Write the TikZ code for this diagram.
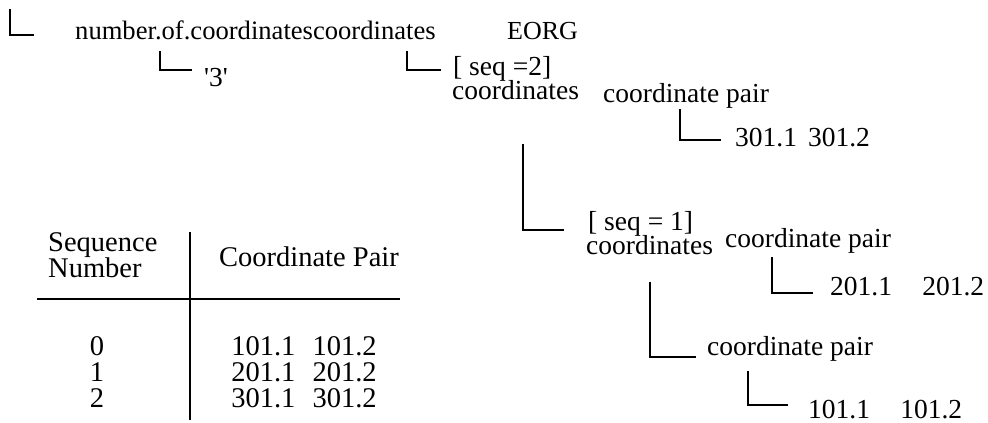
\documentclass[tikz,border=0pt]{standalone}
\usepackage{fontspec}
\setmainfont{Liberation Serif}
\begin{document}
\begin{tikzpicture}[x=1pt,y=-1pt,
  lbl/.style={inner sep=0pt, anchor=mid west, yshift=-7pt, font=\fontsize{27.5}{30}\selectfont},
  cell/.style={inner sep=0pt, anchor=mid, yshift=-7pt, font=\fontsize{28.5}{30}\selectfont},
  brk/.style={line width=2pt, line cap=rect},
  rule/.style={line width=2pt}]
\useasboundingbox (0,0) rectangle (988,423);
% tree labels
\node[lbl, font=\fontsize{26.6}{30}\selectfont] (top)  at (75,30) {number.of.coordinatescoordinates};
\node[lbl, font=\fontsize{26}{30}\selectfont] (eorg) at (507,30)  {EORG};
\node[lbl] (three) at (204,77) {\textquotesingle3\textquotesingle};
\node[lbl] (seq2) at (453,66)  {[ seq =2]};
\node[lbl] (crd2) at (452,90)  {coordinates};
\node[lbl] (cp3)  at (603,93)  {coordinate pair};
\node[lbl] (v3)   at (735,137) {301.1\hspace{0.4em}301.2};
\node[lbl] (seq1) at (588,221) {[ seq = 1]};
\node[lbl] (crd1) at (586,245) {coordinates};
\node[lbl] (cp2)  at (725,238) {coordinate pair};
\node[lbl] (v2)   at (830,286) {201.1\hspace{1.1em}201.2};
\node[lbl] (cp1)  at (707,346) {coordinate pair};
\node[lbl] (v1)   at (808,409) {101.1\hspace{1.1em}101.2};
% bracket starts
\coordinate (s1) at (10,10);
\coordinate (s2) at (160,52);
\coordinate (s3) at (407,52);
\coordinate (s4) at (680,110);
\coordinate (s5) at (523,145);
\coordinate (s6) at (772,258);
\coordinate (s7) at (650,283);
\coordinate (s8) at (748,372);
\draw[brk] (s1) |- ([xshift=-42pt,yshift=2pt]top.mid west);
\draw[brk] (s2) |- ([xshift=-13pt,yshift=14pt]three.mid west);
\draw[brk] (s3) |- ([xshift=-13pt,yshift=3pt]seq2.mid west);
\draw[brk] (s4) |- ([xshift=-15pt,yshift=4pt]v3.mid west);
\draw[brk] (s5) |- ([xshift=-25pt,yshift=-2pt]seq1.mid west);
\draw[brk] (s6) |- ([xshift=-18pt,yshift=0pt]v2.mid west);
\draw[brk] (s7) |- ([xshift=-12pt,yshift=-4pt]cp1.mid west);
\draw[brk] (s8) |- ([xshift=-21pt,yshift=11pt]v1.mid west);
% table
\node[cell, anchor=mid west] (seqh) at (48,242) {Sequence};
\node[cell, anchor=mid west] (numh) at (48,268) {Number};
\node[cell] (cph) at (309,257) {Coordinate Pair};
\node[cell] (r0) at (97,346) {0};
\node[cell] (r1) at (97,372) {1};
\node[cell] (r2) at (97,398) {2};
\node[cell] (p0) at (304,346) {101.1\hspace{0.6em}101.2};
\node[cell] (p1) at (304,372) {201.1\hspace{0.6em}201.2};
\node[cell] (p2) at (304,398) {301.1\hspace{0.6em}301.2};
\coordinate (vt) at (190,232);
\coordinate (vb) at (190,420);
\coordinate (hl) at (37,299);
\coordinate (hr) at (400,299);
\draw[rule] (vt) -- (vb);
\draw[rule] (hl) -- (hr);
\end{tikzpicture}
\end{document}
